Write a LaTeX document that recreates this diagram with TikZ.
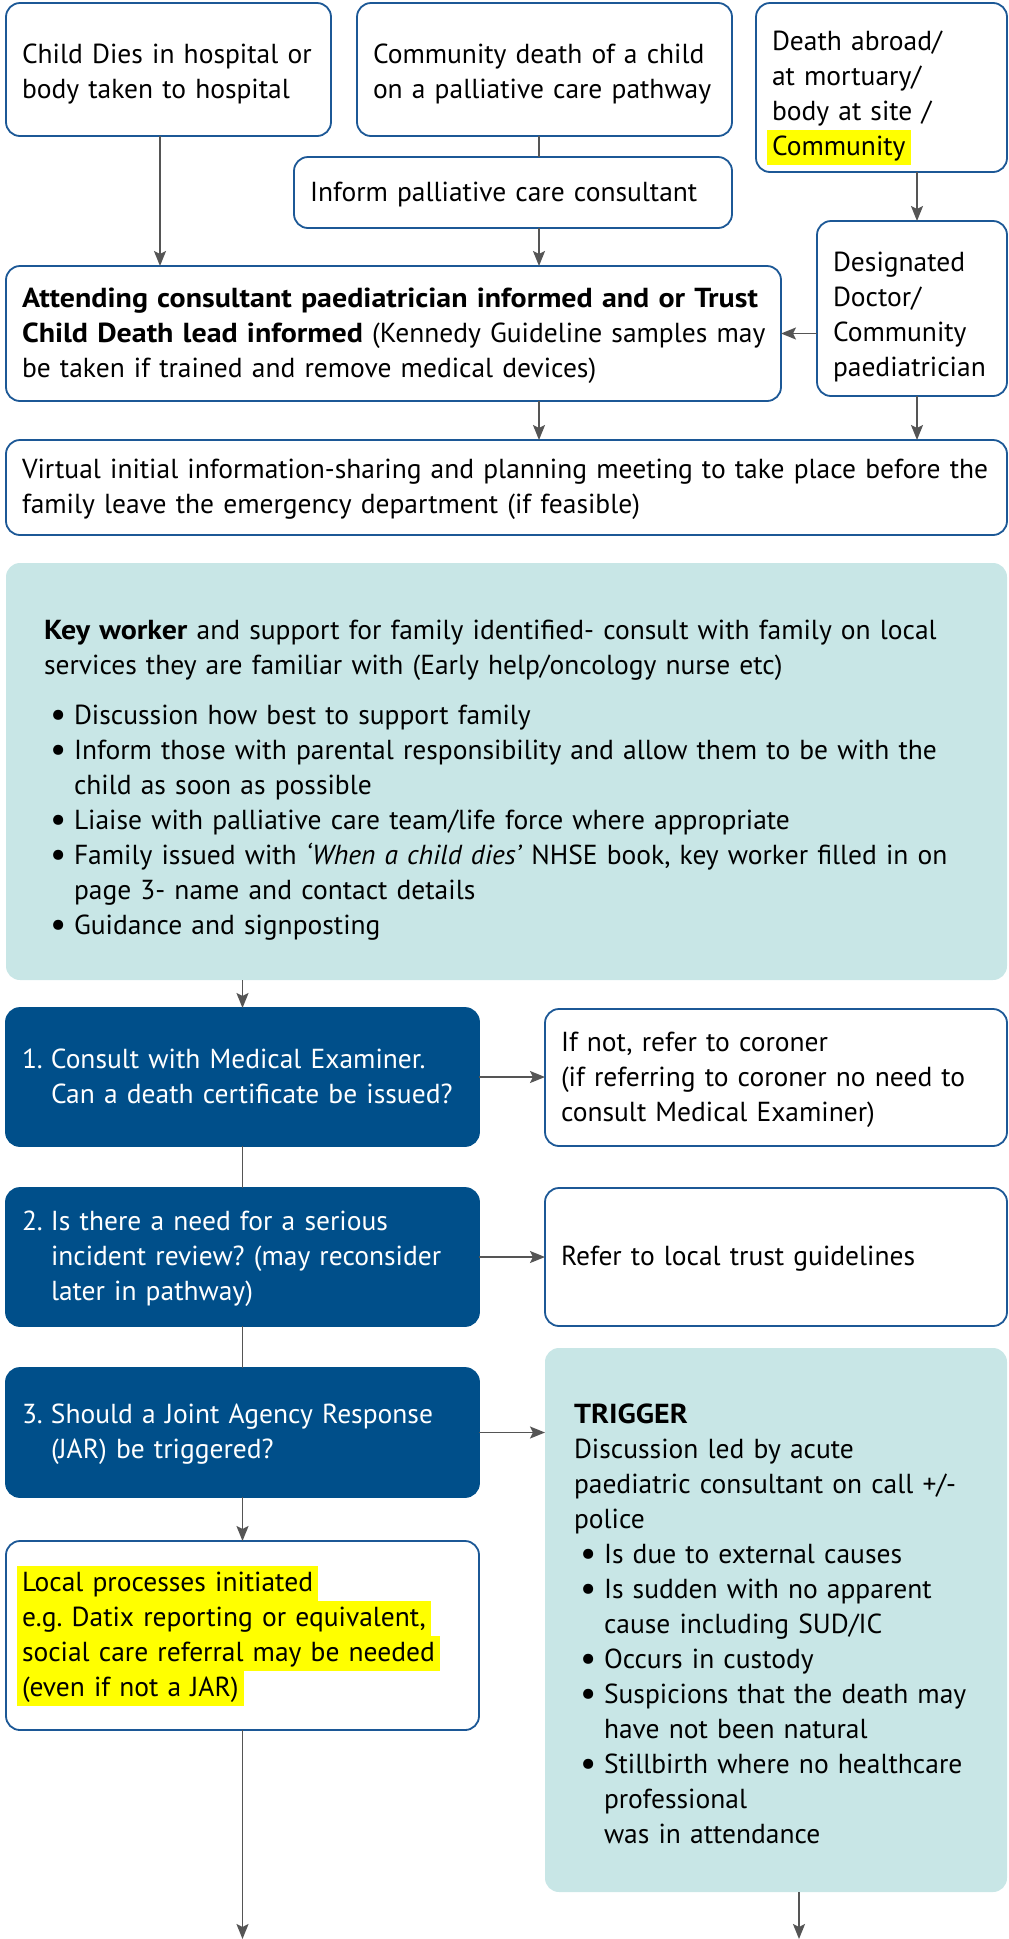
\documentclass[tikz,border=0pt]{standalone}
\usepackage{fontspec}
\setmainfont{PT Sans}[BoldFeatures={FakeStretch=1.09}]
\usetikzlibrary{arrows.meta}

\definecolor{darkblue}{RGB}{0,79,138}
\definecolor{bordercol}{RGB}{28,88,150}
\definecolor{panelcol}{RGB}{200,230,230}
\definecolor{arrowgray}{RGB}{85,85,85}
\definecolor{hly}{RGB}{255,255,0}
\setlength\parindent{0pt}
\frenchspacing

% one unbreakable line of text, with a full line-height strut
\newcommand\lin[1]{\mbox{\rule[-9pt]{0pt}{35pt}#1}}
% extra room above the first line of a box
\newcommand\topgap[1]{\rule{0pt}{#1}}
% yellow highlighted line, full line height
\newcommand\hlt[1]{\hspace*{-5pt}{\setlength\fboxsep{0pt}\colorbox{hly}{\rule[-9pt]{0pt}{35pt}\hspace{5pt}#1\hspace{5pt}}}}
% bullet items and their continuation lines
\newcommand\bul{\hspace*{6pt}\makebox[24pt][l]{\raisebox{-1.5pt}{\fontsize{36pt}{35pt}\selectfont\textbullet}}}
\newcommand\cont{\hspace*{30pt}}
% numbered questions
\newcommand\num[1]{\makebox[29pt][l]{#1}}
\newcommand\numcont{\hspace*{29pt}}

\tikzset{
  base/.style={rectangle, rounded corners=14pt, inner xsep=16pt, inner ysep=0pt,
    outer sep=0pt, align=left, anchor=north west, text=black},
  whitebox/.style={base, draw=bordercol, line width=1.8pt, fill=white},
  darkbox/.style={base, draw=darkblue, fill=darkblue, line width=1.8pt, text=white},
  panel/.style={base, fill=panelcol},
  conn/.style={draw=arrowgray, line width=1.8pt},
  arr/.style={conn, -{Stealth[length=15pt,width=12pt,inset=3pt]}},
}

\begin{document}
\begin{tikzpicture}[x=1pt, y=-1pt, font=\fontsize{27.5pt}{35pt}\selectfont]
\useasboundingbox (0,0) rectangle (1009,1939);

% ---- top row: where the death happened
\node[whitebox, minimum width=325pt, minimum height=133pt, text width=293pt] (a) at (6,3)
  {\lin{\topgap{31pt}Child Dies in hospital or}\\ \lin{body taken to hospital}};
\node[whitebox, minimum width=375pt, minimum height=133pt, text width=343pt] (b) at (357,3)
  {\lin{\topgap{31pt}Community death of a child}\\ \lin{on a palliative care pathway}};
\node[whitebox, minimum width=251pt, minimum height=169pt, text width=219pt] (c) at (756,3)
  {\lin{\topgap{40pt}Death abroad/}\\ \lin{at mortuary/}\\ \lin{body at site /}\\ \hlt{Community}};
\node[whitebox, minimum width=438pt, minimum height=71pt, text width=406pt] (d) at (294,157)
  {\lin{Inform palliative care consultant}};

\node[whitebox, minimum width=775pt, minimum height=135pt, text width=743pt] (e) at (6,266)
  {\lin{\textbf{Attending consultant paediatrician informed and or Trust}}\\
   \lin{\textbf{Child Death lead informed} (Kennedy Guideline samples may}\\
   \lin{be taken if trained and remove medical devices)}};
\node[whitebox, minimum width=190pt, minimum height=175pt, text width=158pt] (f) at (817,221)
  {\lin{\topgap{40pt}Designated}\\ \lin{Doctor/}\\ \lin{Community}\\ \lin{paediatrician}};

\node[whitebox, minimum width=1001pt, minimum height=95pt, text width=969pt] (g) at (6,440)
  {\lin{Virtual initial information-sharing and planning meeting to take place before the}\\
   \lin{family leave the emergency department (if feasible)}};

% ---- key worker panel
\node[panel, minimum width=1001pt, minimum height=417pt, inner xsep=38pt, text width=925pt] (h) at (6,563)
  {\lin{\topgap{40pt}\textbf{Key worker} and support for family identified- consult with family on local}\\
   \lin{services they are familiar with (Early help/oncology nurse etc)}\\[15pt]
   \lin{\bul Discussion how best to support family}\\
   \lin{\bul Inform those with parental responsibility and allow them to be with the}\\
   \lin{\cont child as soon as possible}\\
   \lin{\bul Liaise with palliative care team/life force where appropriate}\\
   \lin{\bul Family issued with \textit{‘When a child dies’} NHSE book, key worker filled in on}\\
   \lin{\cont page 3- name and contact details}\\
   \lin{\bul Guidance and signposting}};

% ---- numbered questions and their outcomes
\node[darkbox, minimum width=473pt, minimum height=138pt, text width=441pt] (q1) at (6,1008)
  {\lin{\num{1.}Consult with Medical Examiner.}\\ \lin{\numcont Can a death certificate be issued?}};
\node[whitebox, minimum width=462pt, minimum height=137pt, text width=430pt] (coroner) at (545,1009)
  {\lin{If not, refer to coroner}\\ \lin{(if referring to coroner no need to}\\ \lin{consult Medical Examiner)}};

\node[darkbox, minimum width=473pt, minimum height=138pt, text width=441pt] (q2) at (6,1188)
  {\lin{\num{2.}Is there a need for a serious}\\ \lin{\numcont incident review? (may reconsider}\\ \lin{\numcont later in pathway)}};
\node[whitebox, minimum width=462pt, minimum height=138pt, text width=430pt] (trust) at (545,1188)
  {\lin{Refer to local trust guidelines}};

\node[darkbox, minimum width=473pt, minimum height=129pt, text width=441pt] (q3) at (6,1368)
  {\lin{\num{3.}Should a Joint Agency Response}\\ \lin{\numcont (JAR) be triggered?}};

\node[whitebox, minimum width=473pt, minimum height=189pt, text width=441pt] (local) at (6,1541)
  {\hlt{Local processes initiated}\\
   \hlt{e.g. Datix reporting or equivalent,}\\
   \hlt{social care referral may be needed}\\
   \hlt{(even if not a JAR)}};

\node[panel, minimum width=462pt, minimum height=544pt, inner xsep=29pt, text width=404pt] (trig) at (545,1348)
  {\lin{\topgap{36pt}\textbf{TRIGGER}}\\
   \lin{Discussion led by acute}\\
   \lin{paediatric consultant on call +/-}\\
   \lin{police}\\
   \lin{\bul Is due to external causes}\\
   \lin{\bul Is sudden with no apparent}\\
   \lin{\cont cause including SUD/IC}\\
   \lin{\bul Occurs in custody}\\
   \lin{\bul Suspicions that the death may}\\
   \lin{\cont have not been natural}\\
   \lin{\bul Stillbirth where no healthcare}\\
   \lin{\cont professional}\\
   \lin{\cont was in attendance}};

% ---- connector columns and loose ends
\coordinate (xa) at (160,0);
\coordinate (xmid) at (539,0);
\coordinate (xright) at (917,0);
\coordinate (endL) at (242.5,1939);
\coordinate (endR) at (799,1939);

% ---- connectors
\draw[arr] (a.south -| xa) -- (e.north -| xa);
\draw[conn] (b.south -| xmid) -- (d.north -| xmid);
\draw[arr] (d.south -| xmid) -- (e.north -| xmid);
\draw[arr] (c.south -| xright) -- (f.north -| xright);
\draw[arr] (f.west |- e.east) -- (e.east);
\draw[arr] (e.south -| xmid) -- (g.north -| xmid);
\draw[arr] (f.south -| xright) -- (g.north -| xright);

\draw[arr] (h.south -| q1.north) -- (q1.north);
\draw[conn] (q1.south) -- (q2.north);
\draw[conn] (q2.south) -- (q3.north);
\draw[arr] (q3.south) -- (local.north);

\draw[arr] (q1.east) -- (q1.east -| coroner.west);
\draw[arr] (q2.east) -- (q2.east -| trust.west);
\draw[arr] (q3.east) -- (q3.east -| trig.west);

\draw[arr] (local.south) -- (endL);
\draw[arr] (trig.south -| endR) -- (endR);
\end{tikzpicture}
\end{document}
